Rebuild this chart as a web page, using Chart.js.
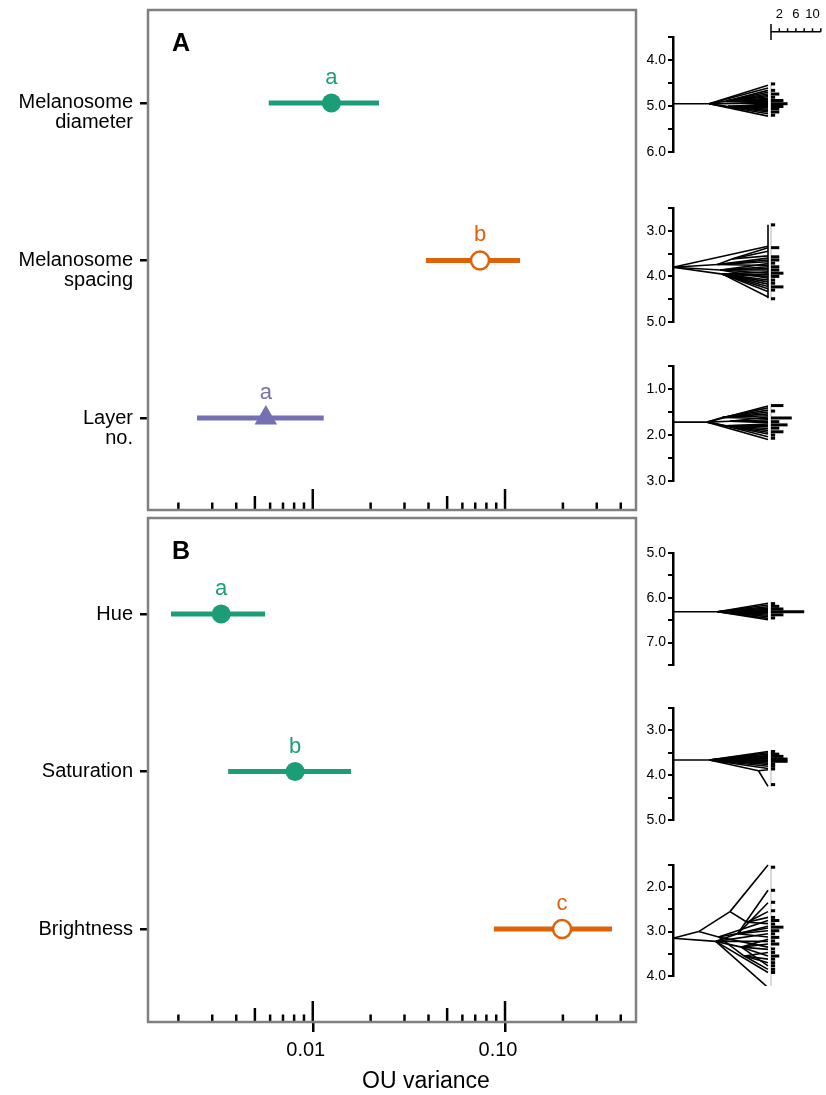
<!DOCTYPE html>
<html>
<head>
<meta charset="utf-8">
<script src="https://cdn.jsdelivr.net/npm/chart.js@4.4.1/dist/chart.umd.min.js"></script>
<style>
  body { margin: 0; background: #fff; }
  #wrap { position: relative; width: 826px; height: 1095px; overflow: hidden; }
  #wrap canvas { position: absolute; }
</style>
</head>
<body>
<div id="wrap">
  <canvas id="panelA" width="640" height="515" style="left:0;top:0"></canvas>
  <canvas id="panelB" width="640" height="583" style="left:0;top:512px"></canvas>
  <canvas id="tree0" width="198" height="162" style="left:628px;top:0"></canvas>
  <canvas id="tree1" width="198" height="134" style="left:628px;top:198px"></canvas>
  <canvas id="tree2" width="198" height="135" style="left:628px;top:356px"></canvas>
  <canvas id="tree3" width="198" height="132" style="left:628px;top:543px"></canvas>
  <canvas id="tree4" width="198" height="132" style="left:628px;top:698px"></canvas>
  <canvas id="tree5" width="198" height="131" style="left:628px;top:855px"></canvas>
</div>
<script>
// ---- main panels: OU variance estimates with intervals ----
const traitsA = ["Melanosome\ndiameter", "Melanosome\nspacing", "Layer\nno."];
const estA = [0.0125, 0.0741, 0.0057];
const lowA = [0.0059, 0.0388, 0.0025];
const highA = [0.0221, 0.1197, 0.0114];
const groupsA = ["a", "b", "a"];

const traitsB = ["Hue", "Saturation", "Brightness"];
const estB = [0.00334, 0.00809, 0.198];
const lowB = [0.00183, 0.00363, 0.0875];
const highB = [0.00565, 0.0158, 0.36];
const groupsB = ["a", "b", "c"];

const xMinorTicks = [0.002, 0.003, 0.004, 0.005, 0.006, 0.007, 0.008, 0.009, 0.01,
                     0.02, 0.03, 0.04, 0.05, 0.06, 0.07, 0.08, 0.09, 0.1, 0.2, 0.3, 0.4];
const xLabelValues = [0.01, 0.1];
const xLabelText = ["0.01", "0.10"];

// ---- traitgrams (root -> internal nodes -> tips) and tip histograms ----
const diamRoot = 4.95;
const diamNodeT = [0.38, 0.56, 0.58];
const diamNodeV = [4.95, 4.89, 5.01];
const diamNodeUp = [-1, 0, 0];
const diamTips = [4.55, 4.61, 4.66, 4.7, 4.74, 4.77, 4.8, 4.83, 4.86, 4.88, 4.9, 4.92, 4.94, 4.96, 4.98, 5.0, 5.02, 5.04, 5.07, 5.1, 5.13, 5.17, 5.22];
const diamTipUp = [0, 0, 1, 1, 1, 1, 1, 1, 1, 1, 1, 0, 0, 2, 2, 2, 2, 2, 2, 2, 2, 0, 0];
const diamBinV = [4.52, 4.66, 4.74, 4.81, 4.88, 4.95, 5.01, 5.06, 5.13, 5.2];
const diamBinN = [1, 1, 2, 1, 3, 4, 3, 2, 2, 1];

const spacRoot = 3.8;
const spacNodeT = [0.47, 0.5, 0.52, 0.62];
const spacNodeV = [3.74, 3.86, 3.95, 3.62];
const spacNodeUp = [-1, -1, -1, 0];
const spacTips = [3.34, 3.37, 3.45, 3.55, 3.6, 3.64, 3.68, 3.72, 3.76, 3.79, 3.83, 3.86, 3.9, 3.93, 3.96, 4.0, 4.04, 4.08, 4.12, 4.17, 4.22, 4.27, 4.33, 4.45];
const spacTipUp = [-1, 3, 3, 3, 0, 0, 0, 1, 0, 1, 1, 1, 2, 1, 2, 2, 1, 2, 2, 2, 2, 2, 2, 2];
const spacBinV = [2.87, 3.37, 3.57, 3.64, 3.71, 3.79, 3.86, 3.93, 4.0, 4.08, 4.15, 4.23, 4.3, 4.49];
const spacBinN = [1, 2, 2, 2, 1, 2, 2, 3, 2, 1, 1, 3, 1, 1];

const layRoot = 1.72;
const layNodeT = [0.36, 0.52, 0.55, 0.6];
const layNodeV = [1.72, 1.62, 1.8, 1.7];
const layNodeUp = [-1, 0, 0, 0];
const layTips = [1.37, 1.41, 1.46, 1.5, 1.54, 1.58, 1.61, 1.64, 1.67, 1.7, 1.73, 1.76, 1.79, 1.82, 1.86, 1.9, 1.94, 1.98, 2.04, 2.1];
const layTipUp = [0, 1, 1, 1, 1, 1, 3, 1, 3, 3, 3, 2, 2, 2, 2, 2, 2, 0, 2, 0];
const layBinV = [1.36, 1.48, 1.63, 1.71, 1.78, 1.85, 1.93, 2.0, 2.07];
const layBinN = [3, 1, 5, 2, 4, 2, 3, 1, 1];

const hueRoot = 6.31;
const hueNodeT = [0.47];
const hueNodeV = [6.31];
const hueNodeUp = [-1];
const hueTips = [6.12, 6.16, 6.2, 6.23, 6.26, 6.28, 6.3, 6.32, 6.34, 6.36, 6.39, 6.42, 6.46, 6.49];
const hueTipUp = [0, 0, 0, 0, 0, 0, 0, 0, 0, 0, 0, 0, 0, 0];
const hueBinV = [6.13, 6.19, 6.25, 6.31, 6.38, 6.45];
const hueBinN = [1, 2, 3, 8, 3, 1];

const satRoot = 3.66;
const satNodeT = [0.38, 0.9];
const satNodeV = [3.66, 3.9];
const satNodeUp = [-1, 0];
const satTips = [3.47, 3.5, 3.53, 3.56, 3.58, 3.6, 3.62, 3.64, 3.66, 3.68, 3.7, 3.73, 3.76, 3.8, 3.85, 3.88, 4.25];
const satTipUp = [0, 0, 0, 0, 0, 0, 0, 0, 0, 0, 0, 0, 0, 0, 0, 1, 1];
const satBinV = [3.47, 3.53, 3.58, 3.64, 3.69, 3.75, 3.8, 3.86, 4.21];
const satBinN = [1, 2, 3, 4, 4, 1, 1, 1, 1];

const briRoot = 3.15;
const briNodeT = [0.27, 0.6, 0.78, 0.45, 0.48, 0.68, 0.72, 0.75];
const briNodeV = [3.0, 2.55, 2.79, 3.22, 3.12, 3.05, 3.35, 3.55];
const briNodeUp = [-1, 0, 1, -1, 0, 3, 3, 4];
const briTips = [1.5, 2.07, 2.35, 2.55, 2.68, 2.75, 2.82, 2.88, 2.92, 2.98, 3.05, 3.12, 3.17, 3.22, 3.28, 3.35, 3.4, 3.47, 3.55, 3.62, 3.7, 3.77, 3.85, 3.92, 4.26];
const briTipUp = [1, 5, 5, 2, 2, 4, 2, 5, 4, 5, 3, 5, 6, 3, 6, 4, 6, 7, 6, 7, 7, 6, 7, 3, 3];
const briBinV = [1.55, 2.07, 2.34, 2.53, 2.68, 2.75, 2.83, 2.9, 2.98, 3.05, 3.13, 3.21, 3.28, 3.39, 3.47, 3.55, 3.62, 3.7, 3.77, 3.85, 3.92, 4.26];
const briBinN = [1, 1, 1, 1, 1, 2, 1, 3, 2, 1, 2, 1, 2, 1, 1, 2, 1, 1, 1, 1, 1, 1];

const countTicks = [0, 2, 4, 6, 8, 10, 12];
const countLabels = [2, 6, 10];

const FONT = '"Liberation Sans", Arial, Helvetica, sans-serif';
Chart.defaults.font.family = FONT;
Chart.defaults.color = "#000";

const GREEN = "#1b9e77";
const ORANGE = "#de6208";
const PURPLE = "#7570b3";
const filledGreen = { color: GREEN, shape: "circle", radius: 9.5, fill: GREEN, border: 0 };
const openOrange = { color: ORANGE, shape: "circle", radius: 9, fill: "#fff", border: 2.5 };
const triPurple = { color: PURPLE, shape: "triangle", radius: 13, fill: PURPLE, border: 0 };

// stop chart.js from growing the chart area around edge labels
function noPadding(s) {
  s.paddingTop = 0;
  s.paddingBottom = 0;
  s.paddingLeft = 0;
  s.paddingRight = 0;
}

function makeDecor(cfg) {
  return {
    id: "decor",
    afterDatasetsDraw(chart) {
      const { ctx, chartArea: a, scales: { x, y } } = chart;
      ctx.save();
      // ticks inside the bottom of the box
      ctx.strokeStyle = "#000";
      ctx.lineWidth = 2.5;
      xMinorTicks.forEach(t => {
        const px = x.getPixelForValue(t);
        const mant = Math.round(t / Math.pow(10, Math.floor(Math.log10(t) + 1e-9)));
        const len = mant === 1 ? 21 : mant === 5 ? 14 : 7.5;
        ctx.beginPath();
        ctx.moveTo(px, a.bottom);
        ctx.lineTo(px, a.bottom - len);
        ctx.stroke();
      });
      ctx.strokeStyle = "#808080";
      ctx.strokeRect(a.left, a.top, a.right - a.left, a.bottom - a.top);

      // group letters
      ctx.font = "22px " + FONT;
      ctx.textAlign = "center";
      ctx.textBaseline = "alphabetic";
      cfg.est.forEach((v, i) => {
        ctx.fillStyle = cfg.styles[i].color;
        ctx.fillText(cfg.groups[i], x.getPixelForValue(v), y.getPixelForValue(i) - 19);
      });

      ctx.fillStyle = "#000";
      ctx.font = "bold 25px " + FONT;
      ctx.textAlign = "left";
      ctx.fillText(cfg.tag, a.left + 24, a.top + 41);

      if (cfg.title) {
        ctx.font = "23px " + FONT;
        ctx.textAlign = "center";
        ctx.textBaseline = "middle";
        ctx.fillText(cfg.title, 426, chart.height - 13);
      }
      ctx.restore();
    }
  };
}

function drawPanel(id, cfg) {
  const datasets = [];
  cfg.est.forEach((v, i) => {
    const s = cfg.styles[i];
    datasets.push({
      data: [{ x: v, y: i }],
      pointStyle: s.shape,
      pointRadius: s.radius,
      backgroundColor: s.fill,
      borderColor: s.color,
      borderWidth: s.border,
      order: 0,
    });
    datasets.push({
      data: [{ x: cfg.low[i], y: i }, { x: cfg.high[i], y: i }],
      showLine: true,
      borderColor: s.color,
      borderWidth: 5,
      pointRadius: 0,
      order: 1,
    });
  });

  return new Chart(document.getElementById(id).getContext("2d"), {
    type: "scatter",
    data: { datasets },
    options: {
      responsive: false,
      animation: false,
      events: [],
      layout: { padding: cfg.padding, autoPadding: false },
      plugins: { legend: { display: false }, tooltip: { enabled: false } },
      scales: {
        x: {
          type: "logarithmic",
          min: 0.00139,
          max: 0.48,
          display: cfg.showX,
          afterBuildTicks: s => { s.ticks = xLabelValues.map(v => ({ value: v })); },
          afterFit: s => { s.height = cfg.showX ? 73 : 0; noPadding(s); },
          border: { display: false },
          grid: { drawOnChartArea: false, drawTicks: true, tickLength: 10, color: "#000", lineWidth: 2.5 },
          ticks: {
            callback: (v, i) => xLabelText[i],
            font: { size: 20 },
            padding: 6,
            labelOffset: -7,
            maxRotation: 0,
            autoSkip: false,
          },
        },
        y: {
          type: "linear",
          min: cfg.yMin,
          max: cfg.yMax,
          reverse: true,
          afterBuildTicks: s => { s.ticks = [0, 1, 2].map(v => ({ value: v })); },
          afterFit: s => { s.width = 148; noPadding(s); },
          border: { display: false },
          grid: { drawOnChartArea: false, drawTicks: true, tickLength: 8, color: "#000", lineWidth: 2.5 },
          ticks: {
            // first line sits on the tick, the second one below it
            callback: v => {
              const parts = cfg.traits[v].split("\n");
              return parts.length > 1 ? ["", ...parts] : parts[0];
            },
            font: { size: 20, lineHeight: 1.0 },
            padding: 7,
            autoSkip: false,
          },
        },
      },
    },
    plugins: [makeDecor(cfg)],
  });
}

drawPanel("panelA", {
  traits: traitsA, est: estA, low: lowA, high: highA, groups: groupsA,
  styles: [filledGreen, openOrange, triPurple],
  tag: "A", showX: false, yMin: -0.59, yMax: 2.584,
  padding: { top: 10, right: 4, bottom: 5, left: 0 },
});
drawPanel("panelB", {
  traits: traitsB, est: estB, low: lowB, high: highB, groups: groupsB,
  styles: [filledGreen, filledGreen, openOrange],
  tag: "B", showX: true, yMin: -0.61, yMax: 2.59, title: "OU variance",
  padding: { top: 6, right: 4, bottom: 0, left: 0 },
});

// ---- small traitgram panels on the right ----
const treePanels = [
  { id: "tree0", min: 3.5, max: 6.0, padTop: 37, root: diamRoot, nodeT: diamNodeT, nodeV: diamNodeV, nodeUp: diamNodeUp,
    tips: diamTips, tipUp: diamTipUp, binV: diamBinV, binN: diamBinN, countBar: true },
  { id: "tree1", min: 2.5, max: 5.0, padTop: 10, root: spacRoot, nodeT: spacNodeT, nodeV: spacNodeV, nodeUp: spacNodeUp,
    tips: spacTips, tipUp: spacTipUp, binV: spacBinV, binN: spacBinN, tipSpan: [2.87, 4.48] },
  { id: "tree2", min: 0.5, max: 3.0, padTop: 10, root: layRoot, nodeT: layNodeT, nodeV: layNodeV, nodeUp: layNodeUp,
    tips: layTips, tipUp: layTipUp, binV: layBinV, binN: layBinN },
  { id: "tree3", min: 5.0, max: 7.5, padTop: 10, root: hueRoot, nodeT: hueNodeT, nodeV: hueNodeV, nodeUp: hueNodeUp,
    tips: hueTips, tipUp: hueTipUp, binV: hueBinV, binN: hueBinN },
  { id: "tree4", min: 2.5, max: 5.0, padTop: 10, root: satRoot, nodeT: satNodeT, nodeV: satNodeV, nodeUp: satNodeUp,
    tips: satTips, tipUp: satTipUp, binV: satBinV, binN: satBinN },
  { id: "tree5", min: 1.5, max: 4.0, padTop: 10, root: briRoot, nodeT: briNodeT, nodeV: briNodeV, nodeUp: briNodeUp,
    tips: briTips, tipUp: briTipUp, binV: briBinV, binN: briBinN },
];

const countBarPlugin = {
  id: "countBar",
  afterDraw(chart) {
    const { ctx } = chart;
    const n = chart.scales.n;
    const y0 = 31.7;
    ctx.save();
    ctx.strokeStyle = "#000";
    ctx.lineWidth = 1.5;
    ctx.beginPath();
    ctx.moveTo(n.getPixelForValue(0), y0);
    ctx.lineTo(n.getPixelForValue(12), y0);
    countTicks.forEach(c => {
      const px = n.getPixelForValue(c);
      ctx.moveTo(px, c === 0 ? 40 : y0);
      ctx.lineTo(px, c === 0 ? 24 : y0 - 3.5);
    });
    ctx.stroke();
    ctx.fillStyle = "#000";
    ctx.font = "13px " + FONT;
    ctx.textAlign = "center";
    ctx.textBaseline = "middle";
    countLabels.forEach(c => ctx.fillText(String(c), n.getPixelForValue(c), 14));
    ctx.restore();
  }
};

function drawTree(p) {
  const canvas = document.getElementById(p.id);
  const datasets = [];
  const at = k => (k < 0 ? { x: 0, y: p.root } : { x: p.nodeT[k], y: p.nodeV[k] });
  const line = (pts, axis, color, width) => datasets.push({
    data: pts, xAxisID: axis, showLine: true, borderColor: color,
    borderWidth: width, borderCapStyle: "butt", pointRadius: 0, clip: false,
  });

  p.binV.forEach((v, k) => line([{ x: 0, y: v }, { x: p.binN[k], y: v }], "n", "#000", 3));
  p.nodeT.forEach((t, k) => line([at(p.nodeUp[k]), at(k)], "x", "#000", 1.6));
  p.tips.forEach((v, k) => line([at(p.tipUp[k]), { x: 1, y: v }], "x", "#000", 1.6));
  if (p.tipSpan) line([{ x: 1, y: p.tipSpan[0] }, { x: 1, y: p.tipSpan[1] }], "x", "#000", 1.6);
  const lo = Math.min(...p.binV) - 0.04;
  const hi = Math.max(...p.binV) + 0.04;
  line([{ x: 0, y: lo }, { x: 0, y: hi }], "n", "#c4c4c4", 1.2);

  new Chart(canvas.getContext("2d"), {
    type: "scatter",
    data: { datasets },
    options: {
      responsive: false,
      animation: false,
      events: [],
      layout: { padding: { top: p.padTop, bottom: 10, left: 0, right: 0 }, autoPadding: false },
      plugins: { legend: { display: false }, tooltip: { enabled: false } },
      scales: {
        x: { type: "linear", min: 0, max: 1.6105, display: false },
        n: { type: "linear", axis: "x", min: -23.6, max: 13.25, display: false },
        y: {
          type: "linear",
          position: "left",
          min: p.min,
          max: p.max,
          reverse: true,
          afterFit: s => { s.width = 45; noPadding(s); },
          border: { display: true, color: "#000", width: 2.5 },
          grid: { drawOnChartArea: false, drawTicks: true, tickLength: 5, color: "#000", lineWidth: 2 },
          ticks: {
            stepSize: 0.5,
            autoSkip: false,
            padding: 2,
            font: { size: 14 },
            callback: v => (Math.abs(v - Math.round(v)) < 1e-6 ? v.toFixed(1) : ""),
          },
        },
      },
    },
    plugins: p.countBar ? [countBarPlugin] : [],
  });
}

treePanels.forEach(drawTree);
</script>
</body>
</html>
